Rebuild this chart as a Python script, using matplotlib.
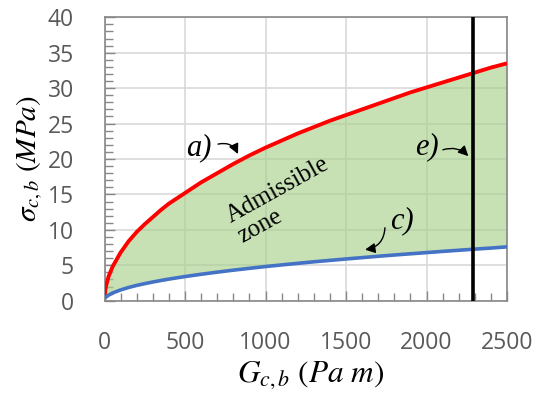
import matplotlib
matplotlib.use("Agg")
import matplotlib.pyplot as plt
from matplotlib.ticker import MultipleLocator

# Data
G = [0, 5, 10, 25, 50, 100, 150, 200, 250, 300, 350, 400, 500, 600, 700, 800, 900,
     1000, 1100, 1200, 1300, 1400, 1500, 1600, 1700, 1800, 1900, 2000, 2100, 2200,
     2300, 2400, 2500]
sigma_a = [0.5, 1.5, 2.1, 3.4, 4.8, 6.8, 8.4, 9.7, 10.8, 11.8, 12.8, 13.7, 15.2, 16.7,
           18.0, 19.3, 20.5, 21.6, 22.6, 23.6, 24.5, 25.4, 26.2, 27.0, 27.8, 28.6, 29.4,
           30.1, 30.8, 31.5, 32.2, 32.9, 33.5]
sigma_c = [0.30, 0.42, 0.52, 0.78, 1.09, 1.52, 1.87, 2.16, 2.41, 2.64, 2.85, 3.05,
           3.41, 3.73, 4.03, 4.31, 4.57, 4.82, 5.05, 5.27, 5.49, 5.69, 5.89, 6.08,
           6.27, 6.45, 6.62, 6.79, 6.96, 7.12, 7.28, 7.43, 7.60]
G_e = 2287
x_ticks = [0, 500, 1000, 1500, 2000, 2500]
y_ticks = [0, 5, 10, 15, 20, 25, 30, 35, 40]

plt.rcParams['mathtext.fontset'] = 'stix'
tick_font = ['Open Sans', 'DejaVu Sans']

fig = plt.figure(figsize=(5.36, 3.99), dpi=100)
ax = fig.add_axes([104.5 / 536, 1 - 300.7 / 399, 402.5 / 536, 283.4 / 399])

ax.set_xlim(0, 2500)
ax.set_ylim(0, 40)
ax.set_xticks(x_ticks)
ax.set_yticks(y_ticks)
ax.xaxis.set_minor_locator(MultipleLocator(100))
ax.yaxis.set_minor_locator(MultipleLocator(1))
ax.grid(True, which='major', color='#d9d9d9', lw=1.2, zorder=0)
ax.set_axisbelow(True)

for s in ax.spines.values():
    s.set_color('#878787')
    s.set_linewidth(1.2)

ax.tick_params(axis='both', which='both', direction='in', color='#878787', width=1.0)
ax.tick_params(axis='both', which='major', length=7)
ax.tick_params(axis='both', which='minor', length=6)
ax.tick_params(axis='y', which='major', pad=22, labelsize=16.5, labelcolor='#595959')
ax.tick_params(axis='x', which='major', pad=22, labelsize=16.5, labelcolor='#595959')
for lab in ax.get_xticklabels() + ax.get_yticklabels():
    lab.set_family(tick_font)

ax.fill_between(G, sigma_c, sigma_a, color='#a9d18e', alpha=0.65, lw=0, zorder=2)
ax.plot(G, sigma_a, color='#ff0000', lw=2.8, zorder=3, solid_capstyle='butt')
ax.plot(G, sigma_c, color='#4472c4', lw=2.6, zorder=3, solid_capstyle='butt')
ax.axvline(G_e, color='black', lw=2.6, zorder=5)

ax.set_xlabel(r'$G_{c,b}\ (Pa\ m)$', fontsize=22.5)
ax.xaxis.set_label_coords(0.513, -0.205)
ax.set_ylabel(r'$\sigma_{c,b}\ (MPa)$', fontsize=21, labelpad=2)

serif = ['Liberation Serif', 'DejaVu Serif']
arrow_kw = dict(arrowstyle='-|>', color='black', lw=1.0, mutation_scale=15, shrinkA=0, shrinkB=0)
ax.text(587, 21.6, 'a)', fontsize=22, style='italic', family=serif, ha='center', va='center', zorder=6)
ax.annotate('', xy=(829, 20.7), xytext=(705, 22.1),
            arrowprops=dict(connectionstyle='arc3,rad=-0.4', **arrow_kw), zorder=6)
ax.text(2000, 21.8, 'e)', fontsize=22, style='italic', family=serif, ha='center', va='center', zorder=6)
ax.annotate('', xy=(2260, 20.4), xytext=(2102, 21.3),
            arrowprops=dict(connectionstyle='arc3,rad=-0.3', **arrow_kw), zorder=6)
ax.text(1848, 11.25, 'c)', fontsize=22, style='italic', family=serif, ha='center', va='center', zorder=6)
ax.annotate('', xy=(1618, 7.2), xytext=(1742, 10.3),
            arrowprops=dict(connectionstyle='arc3,rad=-0.4', **arrow_kw), zorder=6)
ax.text(1109, 14.2, 'Admissible\nzone', fontsize=18, family=serif, ha='center', va='center',
        multialignment='left', rotation=29, rotation_mode='anchor', linespacing=1.1, zorder=6)

fig.savefig('out.png', dpi=100)
